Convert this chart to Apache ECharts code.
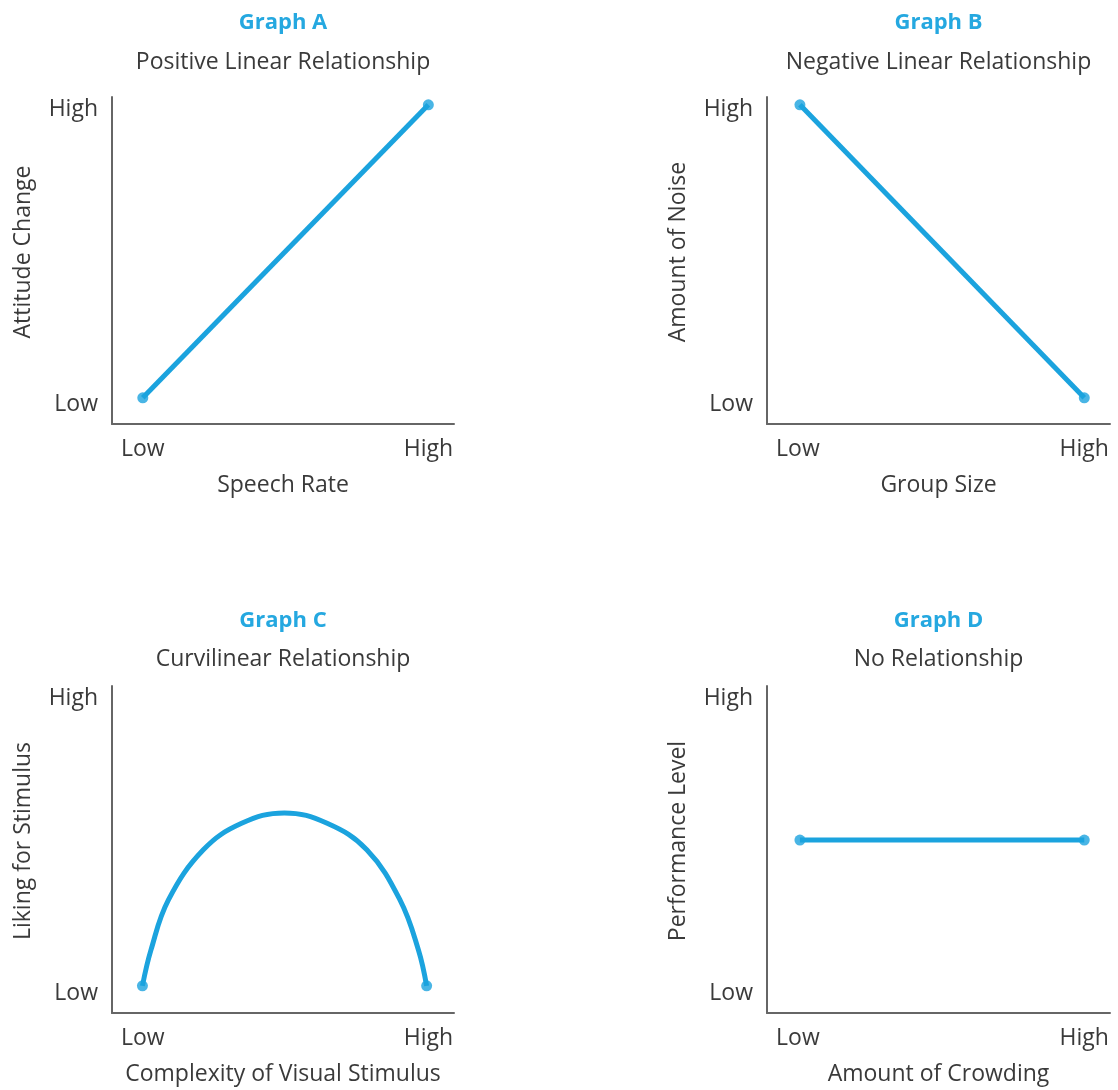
<!DOCTYPE html>
<html>
<head>
<meta charset="utf-8">
<script src="https://cdn.jsdelivr.net/npm/echarts@6/dist/echarts.min.js"></script>
<style>html,body{margin:0;padding:0;background:#fff;}#c{width:1118px;height:1090px;}</style>
</head>
<body>
<div id="c"></div>
<script>
// ---- data ----
const graphTitles = ['Graph A', 'Graph B', 'Graph C', 'Graph D'];
const graphSubtitles = ['Positive Linear Relationship', 'Negative Linear Relationship', 'Curvilinear Relationship', 'No Relationship'];
const xNames = ['Speech Rate', 'Group Size', 'Complexity of Visual Stimulus', 'Amount of Crowding'];
const yNames = ['Attitude Change', 'Amount of Noise', 'Liking for Stimulus', 'Performance Level'];
const levelLabels = ['Low', 'High'];
const xLabelValues = [9, 92.5];
const yLabelValues = [5.9, 96.3];
const seriesA = [[9, 8], [92.5, 97.6]];
const seriesB = [[9.6, 97.6], [92.5, 8]];
const seriesC = [
  [8.9, 8.3], [11.4, 19.3], [16.5, 34.6], [26.7, 49.9], [37.9, 58.0],
  [50.4, 61.2],
  [62.9, 58.0], [74.5, 49.9], [84.2, 34.6], [89.6, 19.3], [92.0, 8.3]
];
const seriesD = [[9.6, 52.9], [92.5, 52.9]];

const allSeries = [seriesA, seriesB, seriesC, seriesD];
const LINE = '#1ba3de';
const TITLE = '#25a8e0';
const TEXT = '#3a3a3a';
const AXIS = '#666666';
const FONT = 'Open Sans';
const FS = 23;

const grids = [
  {left: 112, top: 97, width: 342, height: 327},
  {left: 767, top: 97, width: 343, height: 327},
  {left: 112, top: 686, width: 342, height: 327},
  {left: 767, top: 686, width: 343, height: 327}
];
const titleY = [11, 11, 609, 609];
const subY = [49, 49, 646, 646];

const option = {
  animation: false,
  backgroundColor: '#fff',
  title: [],
  grid: grids,
  xAxis: [],
  yAxis: [],
  series: []
};

for (let i = 0; i < 4; i++) {
  const g = grids[i];
  const cx = g.left + g.width / 2;
  option.title.push({
    text: graphTitles[i], left: cx, top: titleY[i], textAlign: 'center', padding: 0,
    textStyle: {color: TITLE, fontFamily: FONT, fontWeight: 'bold', fontSize: 22, lineHeight: 24}
  });
  option.title.push({
    text: graphSubtitles[i], left: cx, top: subY[i], textAlign: 'center', padding: 0,
    textStyle: {color: TEXT, fontFamily: FONT, fontWeight: 'normal', fontSize: FS, lineHeight: 26}
  });
  option.xAxis.push({
    type: 'value', gridIndex: i, min: 0, max: 100,
    name: xNames[i], nameLocation: 'middle', nameGap: 50,
    nameTextStyle: {color: TEXT, fontFamily: FONT, fontSize: FS},
    axisLine: {show: true, lineStyle: {color: AXIS, width: 2}},
    axisTick: {show: false},
    splitLine: {show: false},
    axisLabel: {
      customValues: xLabelValues, margin: 14,
      formatter: v => levelLabels[xLabelValues.indexOf(v)],
      color: TEXT, fontFamily: FONT, fontSize: FS
    }
  });
  option.yAxis.push({
    type: 'value', gridIndex: i, min: 0, max: 100,
    name: yNames[i], nameLocation: 'middle', nameGap: 77, nameRotate: 90,
    nameTextStyle: {color: TEXT, fontFamily: FONT, fontSize: FS, padding: [0, 0, 0, 17]},
    axisLine: {show: true, lineStyle: {color: AXIS, width: 2}},
    axisTick: {show: false},
    splitLine: {show: false},
    axisLabel: {
      customValues: yLabelValues, margin: 14,
      formatter: v => levelLabels[yLabelValues.indexOf(v)],
      color: TEXT, fontFamily: FONT, fontSize: FS
    }
  });
  const d = allSeries[i];
  option.series.push({
    type: 'line', xAxisIndex: i, yAxisIndex: i, data: d,
    smooth: i === 2 ? 0.4 : false,
    showSymbol: false, symbol: 'none',
    lineStyle: {color: LINE, width: 5}
  });
  option.series.push({
    type: 'scatter', xAxisIndex: i, yAxisIndex: i,
    data: [d[0], d[d.length - 1]],
    symbol: 'circle', symbolSize: 11,
    itemStyle: {color: LINE}
  });
}

const chart = echarts.init(document.getElementById('c'), null, {renderer: 'canvas'});
chart.setOption(option);
</script>
</body>
</html>
